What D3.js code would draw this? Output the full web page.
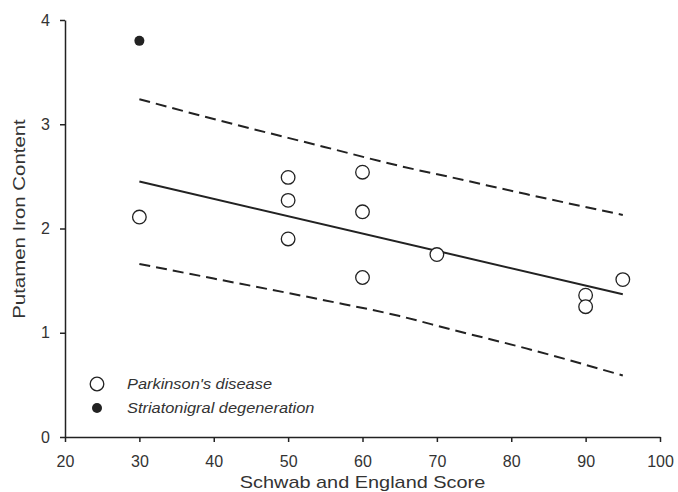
<!DOCTYPE html>
<html>
<head>
<meta charset="utf-8">
<style>
  body { margin: 0; background: #fff; }
  svg text { font-family: "Liberation Sans", Arial, sans-serif; fill: #333; }
  .axis path, .axis line { stroke: #222; stroke-width: 1.5; }
  .axis text { font-size: 16px; }
</style>
</head>
<body>
<svg id="chart" width="678" height="492"></svg>
<script src="https://cdn.jsdelivr.net/npm/d3@7"></script>
<script>
// Parkinson's disease points
var pdScore = [30, 50, 50, 50, 60, 60, 60, 70, 90, 90, 95];
var pdIron  = [2.11, 2.49, 2.27, 1.90, 2.54, 2.16, 1.53, 1.75, 1.36, 1.25, 1.51];
// striatonigral degeneration
var sndScore = [30];
var sndIron  = [3.80];
// regression line and prediction band
var fitScore = [30, 95];
var fitIron  = [2.45, 1.37];
var bandScore = [30, 40, 55, 65, 72, 82, 95];
var bandUpper = [3.24, 3.05, 2.78, 2.60, 2.49, 2.33, 2.13];
var bandLower = [1.66, 1.52, 1.31, 1.16, 1.03, 0.85, 0.59];
var xTicks = [20, 30, 40, 50, 60, 70, 80, 90, 100];
var yTicks = [0, 1, 2, 3, 4];
var legendLabels = ["Parkinson's disease", "Striatonigral degeneration"];

var svg = d3.select('#chart');

var x = d3.scaleLinear().domain([20, 100]).range([65, 660]);
var y = d3.scaleLinear().domain([0, 4]).range([437, 20]);

svg.append('g')
  .attr('class', 'axis')
  .attr('transform', 'translate(0,437)')
  .call(d3.axisBottom(x).tickValues(xTicks).tickFormat(d3.format('d')).tickSize(5).tickPadding(14).tickSizeOuter(0))
  .call(g => g.selectAll('text').attr('fill', '#333'));

svg.append('g')
  .attr('class', 'axis')
  .attr('transform', 'translate(65,0)')
  .call(d3.axisLeft(y).tickValues(yTicks).tickFormat(d3.format('d')).tickSize(5).tickPadding(10).tickSizeOuter(0))
  .call(g => g.selectAll('text').attr('fill', '#333'));

// the original text is a bit wider than Arial, so stretch it sideways
svg.append('text')
  .attr('transform', 'translate(' + (x(20) + x(100)) / 2 + ',488) scale(1.17,1)')
  .attr('text-anchor', 'middle')
  .style('font-size', '17px')
  .text('Schwab and England Score');

svg.append('text')
  .attr('transform', 'translate(25,219) rotate(-90) scale(1.2,1)')
  .attr('text-anchor', 'middle')
  .style('font-size', '17px')
  .text('Putamen Iron Content');

var line = d3.line().x(d => x(d[0])).y(d => y(d[1]));

svg.append('path')
  .datum(d3.zip(fitScore, fitIron))
  .attr('d', line)
  .attr('fill', 'none')
  .attr('stroke', '#222')
  .attr('stroke-width', 2);

[bandUpper, bandLower].forEach(function(b) {
  svg.append('path')
    .datum(d3.zip(bandScore, b))
    .attr('d', d3.line().curve(d3.curveMonotoneX).x(d => x(d[0])).y(d => y(d[1])))
    .attr('fill', 'none')
    .attr('stroke', '#222')
    .attr('stroke-width', 2)
    .attr('stroke-dasharray', '11,6');
});

svg.selectAll('circle.pd')
  .data(d3.zip(pdScore, pdIron))
  .enter().append('circle')
  .attr('class', 'pd')
  .attr('cx', d => x(d[0]))
  .attr('cy', d => y(d[1]))
  .attr('r', 6.8)
  .attr('fill', '#fff')
  .attr('stroke', '#222')
  .attr('stroke-width', 1.3);

svg.selectAll('circle.snd')
  .data(d3.zip(sndScore, sndIron))
  .enter().append('circle')
  .attr('class', 'snd')
  .attr('cx', d => x(d[0]))
  .attr('cy', d => y(d[1]))
  .attr('r', 5)
  .attr('fill', '#222');

// legend
var leg = svg.append('g').attr('transform', 'translate(97,384)');
leg.append('circle').attr('r', 6.8).attr('fill', '#fff').attr('stroke', '#222').attr('stroke-width', 1.3);
leg.append('circle').attr('cy', 24).attr('r', 5).attr('fill', '#222');
leg.selectAll('text')
  .data(legendLabels)
  .enter().append('text')
  .attr('transform', (d, i) => 'translate(30,' + (i * 24 + 5) + ') scale(1.17,1)')
  .style('font-size', '14px')
  .style('font-style', 'italic')
  .text(d => d);
</script>
</body>
</html>
